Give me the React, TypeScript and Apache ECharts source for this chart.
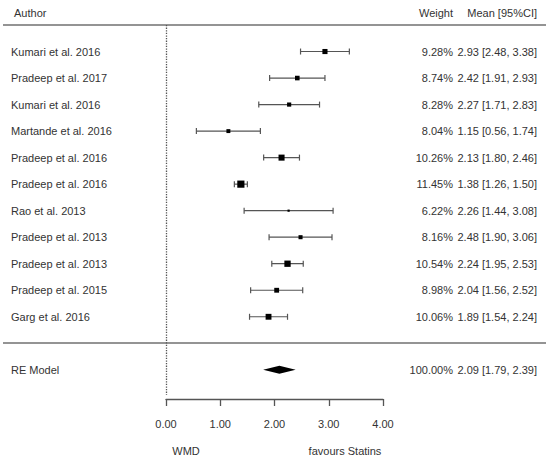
import { useEffect, useRef } from "react";
import * as echarts from "echarts";

const authors = [
  "Kumari et al. 2016",
  "Pradeep et al. 2017",
  "Kumari et al. 2016",
  "Martande et al. 2016",
  "Pradeep et al. 2016",
  "Pradeep et al. 2016",
  "Rao et al. 2013",
  "Pradeep et al. 2013",
  "Pradeep et al. 2013",
  "Pradeep et al. 2015",
  "Garg et al. 2016",
];
const weights = [9.28, 8.74, 8.28, 8.04, 10.26, 11.45, 6.22, 8.16, 10.54, 8.98, 10.06];
const means = [2.93, 2.42, 2.27, 1.15, 2.13, 1.38, 2.26, 2.48, 2.24, 2.04, 1.89];
const lower = [2.48, 1.91, 1.71, 0.56, 1.8, 1.26, 1.44, 1.9, 1.95, 1.56, 1.54];
const upper = [3.38, 2.93, 2.83, 1.74, 2.46, 1.5, 3.08, 3.06, 2.53, 2.52, 2.24];

// pooled random-effects estimate: [mean, lower, upper]
const pooled = [2.09, 1.79, 2.39];
const pooledLabel = "RE Model";
const pooledWeight = 100;
const pooledRow = 12;

const xTicks = [0, 1, 2, 3, 4];

const FONT = "Liberation Sans, Arial, sans-serif";
const TEXT = "#333";
const LINE = "#555";
const COL_AUTHOR = 11;
const COL_WEIGHT = 453;
const COL_CI = 537;

const fmtCI = (m: number, lo: number, hi: number) =>
  `${m.toFixed(2)} [${lo.toFixed(2)}, ${hi.toFixed(2)}]`;

const txt = (text: string, x: number, y: number, align: string) => ({
  type: "text",
  style: {
    text,
    x,
    y,
    textAlign: align,
    textVerticalAlign: "middle",
    fontSize: 11,
    fontFamily: FONT,
    fill: TEXT,
  },
});

export default function App() {
  const chartRef = useRef<HTMLDivElement>(null);

  useEffect(() => {
    document.body.style.margin = "0";
    if (!chartRef.current) return;
    const chart = echarts.init(chartRef.current, undefined, { renderer: "svg" });

    const studyData = authors.map((a, i) => [i, means[i], lower[i], upper[i], weights[i]]);

    chart.setOption({
      animation: false,
      grid: { left: 166, right: 167, top: 25, bottom: 60 },
      xAxis: {
        type: "value",
        min: xTicks[0],
        max: xTicks[xTicks.length - 1],
        interval: 1,
        axisLine: { show: true, onZero: false, lineStyle: { color: LINE, width: 1.3 } },
        axisTick: { show: true, length: 7, lineStyle: { color: LINE, width: 1.3 } },
        axisLabel: {
          formatter: (v: number) => v.toFixed(2),
          fontSize: 11,
          fontFamily: FONT,
          color: TEXT,
          margin: 19,
        },
        splitLine: { show: false },
      },
      yAxis: {
        type: "value",
        min: -1,
        max: 13.1,
        inverse: true,
        show: false,
      },
      series: [
        {
          type: "custom",
          data: studyData,
          encode: { x: [1, 2, 3], y: 0 },
          renderItem: (params: any, api: any) => {
            const row = api.value(0);
            const m = api.value(1);
            const lo = api.value(2);
            const hi = api.value(3);
            const w = api.value(4);
            const pm = api.coord([m, row]);
            const pl = api.coord([lo, row]);
            const ph = api.coord([hi, row]);
            const y = pm[1];
            const size = Math.max(2, 2 + (w - 6) * 0.95);
            const ls = { stroke: LINE, lineWidth: 1.2 };
            return {
              type: "group",
              children: [
                { type: "line", shape: { x1: pl[0], y1: y, x2: ph[0], y2: y }, style: ls },
                { type: "line", shape: { x1: pl[0], y1: y - 3, x2: pl[0], y2: y + 3 }, style: ls },
                { type: "line", shape: { x1: ph[0], y1: y - 3, x2: ph[0], y2: y + 3 }, style: ls },
                {
                  type: "rect",
                  shape: { x: pm[0] - size / 2, y: y - size / 2, width: size, height: size },
                  style: { fill: "#000" },
                },
                txt(authors[row], COL_AUTHOR, y, "left"),
                txt(`${w.toFixed(2)}%`, COL_WEIGHT, y, "right"),
                txt(fmtCI(m, lo, hi), COL_CI, y, "right"),
              ],
            };
          },
          markLine: {
            silent: true,
            symbol: "none",
            label: { show: false },
            lineStyle: { color: LINE, type: "dotted", width: 1.3 },
            data: [[{ coord: [0, -1] }, { coord: [0, 12.95] }]],
          },
        },
        {
          type: "custom",
          data: [[pooledRow, pooled[0], pooled[1], pooled[2]]],
          encode: { x: [1, 2, 3], y: 0 },
          renderItem: (params: any, api: any) => {
            const row = api.value(0);
            const m = api.value(1);
            const lo = api.value(2);
            const hi = api.value(3);
            const pm = api.coord([m, row]);
            const pl = api.coord([lo, row]);
            const ph = api.coord([hi, row]);
            const y = pm[1];
            return {
              type: "group",
              children: [
                {
                  type: "polygon",
                  shape: {
                    points: [
                      [pl[0], y],
                      [pm[0], y - 4],
                      [ph[0], y],
                      [pm[0], y + 4],
                    ],
                  },
                  style: { fill: "#000" },
                },
                txt(pooledLabel, COL_AUTHOR, y, "left"),
                txt(`${pooledWeight.toFixed(2)}%`, COL_WEIGHT, y, "right"),
                txt(fmtCI(m, lo, hi), COL_CI, y, "right"),
              ],
            };
          },
        },
      ],
      graphic: [
        { type: "line", shape: { x1: 3, y1: 25, x2: 546, y2: 25 }, style: { stroke: "#707070", lineWidth: 1.5 } },
        { type: "line", shape: { x1: 3, y1: 343, x2: 546, y2: 343 }, style: { stroke: "#707070", lineWidth: 1.5 } },
        txt("Author", 14, 13, "left"),
        txt("Weight", COL_WEIGHT, 13, "right"),
        txt("Mean [95%CI]", COL_CI, 13, "right"),
        txt("WMD", 186, 451, "center"),
        txt("favours Statins", 345, 451, "center"),
      ],
    });

    return () => chart.dispose();
  }, []);

  return <div ref={chartRef} style={{ width: 550, height: 459 }} />;
}
